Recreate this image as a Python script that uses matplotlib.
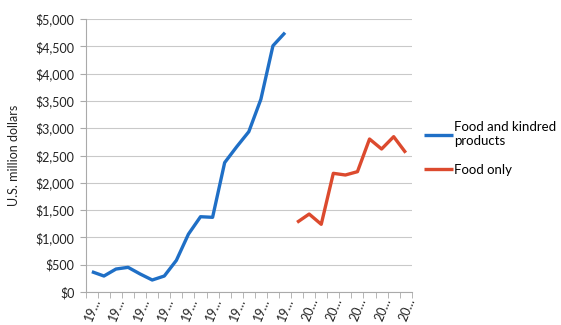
import matplotlib
matplotlib.use("Agg")
from matplotlib import pyplot as plt
from matplotlib.ticker import FuncFormatter, MultipleLocator
import numpy as np

years = list(range(1983, 2010))
food_kindred = [372, 293, 421, 452, 330, 220, 293, 580, 1060, 1379, 1368,
                2370, 2661, 2936, 3530, 4510, 4750]
food_only = [1276, 1428, 1240, 2174, 2143, 2204, 2802, 2619, 2845, 2551]

BLUE = "#1f6fc6"
RED = "#dc4a2e"


def main():
    plt.rcParams["font.family"] = ["Lato", "DejaVu Sans"]
    fig = plt.figure(figsize=(5.61, 3.25), dpi=100)
    ax = fig.add_axes([0.153, 0.1015, 0.581, 0.84])

    x = np.arange(len(years))
    n_blue = len(food_kindred)
    ax.plot(x[:n_blue], food_kindred, color=BLUE, lw=2.4,
            solid_capstyle="butt", solid_joinstyle="round",
            label="Food and kindred\nproducts")
    ax.plot(x[n_blue:n_blue + len(food_only)], food_only, color=RED, lw=2.4,
            solid_capstyle="butt", solid_joinstyle="round", label="Food only")

    ax.set_xlim(-0.5, len(years) - 0.5)
    ax.set_ylim(0, 5000)
    ax.yaxis.set_major_locator(MultipleLocator(500))
    ax.yaxis.set_major_formatter(FuncFormatter(lambda v, p: f"${v:,.0f}"))
    ax.grid(axis="y", color="#c9c9c9", lw=0.8)
    ax.set_axisbelow(True)

    ax.set_xticks(x[::2])
    ax.set_xticklabels([str(y)[:2] + "\u2026" for y in years[::2]],
                       rotation=68, ha="right", rotation_mode="anchor",
                       fontsize=9, color="#222222")
    ax.set_xticks(np.arange(-0.5, len(years)), minor=True)
    ax.tick_params(axis="x", which="major", length=0, pad=3)
    ax.tick_params(axis="x", which="minor", length=4, color="#aaaaaa")
    ax.tick_params(axis="y", length=4, color="#aaaaaa", labelsize=9,
                   labelcolor="#222222", pad=4)

    for side in ["top", "right"]:
        ax.spines[side].set_visible(False)
    for side in ["left", "bottom"]:
        ax.spines[side].set_color("#aaaaaa")
        ax.spines[side].set_linewidth(0.8)

    ax.set_ylabel("U.S. million dollars", fontsize=9, color="#222222", labelpad=11)

    ax.legend(loc="center left", bbox_to_anchor=(1.02, 0.525), frameon=False,
              fontsize=9.5, handlelength=2.2, handletextpad=0.1,
              labelspacing=1.25, borderaxespad=0)

    fig.savefig("out.png", dpi=100)


if __name__ == "__main__":
    main()
